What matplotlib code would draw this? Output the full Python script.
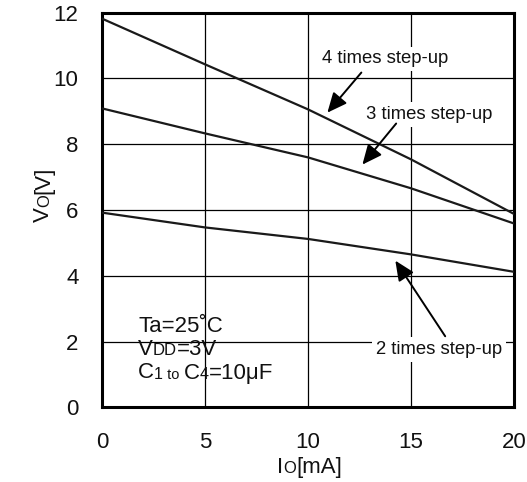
import numpy as np
import matplotlib.pyplot as plt
from matplotlib.patches import Rectangle

plt.rcParams['font.family'] = ['Liberation Sans', 'DejaVu Sans']

# ----------------------------
# Data
# ----------------------------

io_ma = [0, 5, 10, 15, 20]
vo_x4 = [11.82, 10.43, 9.06, 7.54, 5.88]
vo_x3 = [9.09, 8.33, 7.60, 6.66, 5.59]
vo_x2 = [5.92, 5.47, 5.12, 4.65, 4.12]

x_ticks = [0, 5, 10, 15, 20]
y_ticks = [0, 2, 4, 6, 8, 10, 12]

line_col = '#1a1a1a'
DESC = 0.212  # descent of Liberation Sans, in em


def rich(ax, xy, pieces, coords, rotation=0):
    # pieces: list of (text, fontsize); all share one baseline
    s0, f0 = pieces[0]
    kw = dict(rotation=rotation, rotation_mode='anchor', ha='left',
              va='baseline', color='#111111', annotation_clip=False)
    first = ax.annotate(s0, xy, xycoords=coords, fontsize=f0, **kw)
    prev = first
    for s, f in pieces[1:]:
        if rotation == 0:
            t = ax.annotate(s, (1, 0), xycoords=(prev, first),
                            xytext=(0, DESC * f0), textcoords='offset points',
                            fontsize=f, **kw)
        else:
            t = ax.annotate(s, (1, 1), xycoords=(first, prev),
                            xytext=(-DESC * f0, 0), textcoords='offset points',
                            fontsize=f, **kw)
        prev = t
    return first


fig = plt.figure(figsize=(5.27, 4.82), dpi=100)
ax = fig.add_axes([102 / 527, 1 - 407.3 / 482, 412 / 527, 394.6 / 482])

ax.plot(io_ma, vo_x4, color=line_col, lw=1.6, zorder=3)
ax.plot(io_ma, vo_x3, color=line_col, lw=1.6, zorder=3)
ax.plot(io_ma, vo_x2, color=line_col, lw=1.6, zorder=3)

ax.set_xlim(0, 20)
ax.set_ylim(0, 12)
ax.set_xticks(x_ticks)
ax.set_yticks(y_ticks)
ax.tick_params(axis='both', length=0, labelsize=16, colors='#111111')
ax.tick_params(axis='x', pad=18)
ax.tick_params(axis='y', pad=17)
ax.grid(True, color='black', lw=0.9)
for sp in ax.spines.values():
    sp.set_linewidth(2.2)
    sp.set_color('black')

# axis labels with small subscripts
rich(ax, (277 / 527, 9 / 482), [('I', 16), ('O', 12), ('[mA]', 16)],
     'figure fraction')
rich(ax, (49 / 527, 260 / 482), [('V', 16), ('O', 12), ('[V]', 16)],
     'figure fraction', rotation=90)

# condition box
ax.add_patch(Rectangle((1.5, 0.7), 5.4, 2.3, facecolor='white',
                       edgecolor='none', zorder=1.5))
rich(ax, (1.75, 2.3), [('Ta=25˚C', 16)], 'data')
rich(ax, (1.75, 1.6), [('V', 16), ('DD', 12), ('=3V', 16)], 'data')
rich(ax, (1.75, 0.88), [('C', 16), ('1', 11.5), (' to ', 10.5), ('C', 16),
                        ('4', 11.5), ('=10μF', 16)], 'data')

# curve labels and arrows
box = dict(boxstyle='square,pad=0.2', facecolor='white', edgecolor='none')
ax.text(13.75, 10.6, '4 times step-up', fontsize=13.3, ha='center',
        va='center', bbox=box, zorder=4, color='#111111')
ax.text(15.88, 8.9, '3 times step-up', fontsize=13.3, ha='center',
        va='center', bbox=box, zorder=4, color='#111111')
ax.text(16.37, 1.76, '2 times step-up', fontsize=13.3, ha='center',
        va='center', bbox=box, zorder=4, color='#111111')

arrow = dict(arrowstyle='-|>,head_length=0.6,head_width=0.27',
             mutation_scale=20, lw=1.4, color='black',
             shrinkA=0, shrinkB=0)
ax.annotate('', xy=(10.94, 8.96), xytext=(12.59, 10.18), arrowprops=arrow,
            zorder=5)
ax.annotate('', xy=(12.64, 7.38), xytext=(14.28, 8.63), arrowprops=arrow,
            zorder=5)
ax.annotate('', xy=(14.24, 4.46), xytext=(16.66, 2.16), arrowprops=arrow,
            zorder=5)

plt.savefig('out.png', dpi=100)
